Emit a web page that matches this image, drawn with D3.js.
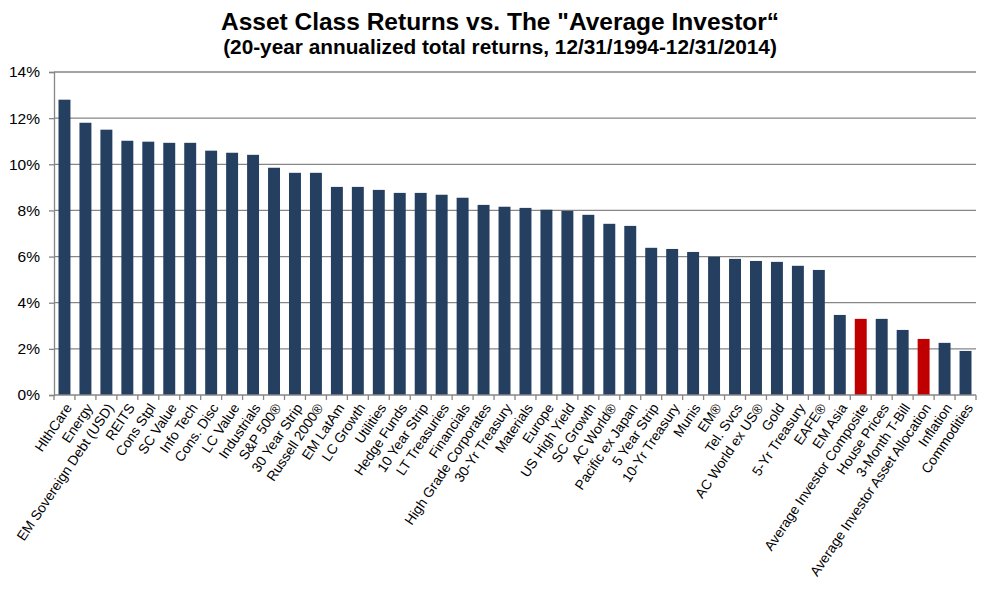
<!DOCTYPE html>
<html>
<head>
<meta charset="utf-8">
<script src="https://cdn.jsdelivr.net/npm/d3@7"></script>
<style>
  body { margin: 0; background: #fff; }
  svg { display: block; font-family: Arial, "Liberation Sans", sans-serif; }
</style>
</head>
<body>
<svg id="chart"></svg>
<script>
// categories, left to right
const categories = [
    'HlthCare', 'Energy', 'EM Sovereign Debt (USD)', 'REITS', 'Cons Stpl', 'SC Value',
    'Info Tech', 'Cons. Disc', 'LC Value', 'Industrials', 'S&P 500®', '30 Year Strip',
    'Russell 2000®', 'EM LatAm', 'LC Growth', 'Utilities', 'Hedge Funds', '10 Year Strip',
    'LT Treasuries', 'Financials', 'High Grade Corporates', '30-Yr Treasury', 'Materials',
    'Europe', 'US High Yield', 'SC Growth', 'AC World®', 'Pacific ex Japan', '5 Year Strip',
    '10-Yr Treasury', 'Munis', 'EM®', 'Tel. Svcs', 'AC World ex US®', 'Gold',
    '5-Yr Treasury', 'EAFE®', 'EM Asia', 'Average Investor Composite', 'House Prices',
    '3-Month T-Bill', 'Average Investor Asset Allocation', 'Inflation', 'Commodities'
]

// annualized returns, %
const returns = [
    12.8, 11.8, 11.5, 11.02, 10.98, 10.93,
    10.93, 10.59, 10.5, 10.41, 9.85, 9.63,
    9.63, 9.02, 9.02, 8.89, 8.76, 8.76,
    8.68, 8.55, 8.24, 8.16, 8.11,
    8.03, 7.98, 7.81, 7.42, 7.33, 6.38,
    6.33, 6.2, 5.99, 5.9, 5.81, 5.77,
    5.6, 5.42, 3.47, 3.3, 3.3,
    2.82, 2.43, 2.26, 1.91
]

// the two "average investor" bars are highlighted
const highlighted = ['Average Investor Composite', 'Average Investor Asset Allocation']

const yTicks = [0, 2, 4, 6, 8, 10, 12, 14]

const titleLines = [
    'Asset Class Returns vs. The "Average Investor\u201C',
    '(20-year annualized total returns, 12/31/1994-12/31/2014)'
]

const data = categories.map((c, i) => ({ name: c, value: returns[i] }))

const W = 990
const H = 599
const margin = { top: 72, right: 14, bottom: 204, left: 54 }
const width = W - margin.left - margin.right
const height = H - margin.top - margin.bottom

const svg = d3.select('#chart')
    .attr('width', W)
    .attr('height', H)

// title
svg.append('text')
    .attr('x', 500)
    .attr('y', 30)
    .attr('text-anchor', 'middle')
    .attr('font-size', '24.5px')
    .attr('font-weight', 'bold')
    .attr('fill', '#000')
    .text(titleLines[0])

svg.append('text')
    .attr('x', 500)
    .attr('y', 54)
    .attr('text-anchor', 'middle')
    .attr('font-size', '20.8px')
    .attr('font-weight', 'bold')
    .attr('fill', '#000')
    .text(titleLines[1])

const g = svg.append('g')
    .attr('transform', `translate(${margin.left},${margin.top})`)

const gap = 0.43
const x = d3.scaleBand()
    .domain(categories)
    .range([0, width])
    .paddingInner(gap)
    .paddingOuter(gap / 2)

const y = d3.scaleLinear()
    .domain([0, 14])
    .range([height, 0])

// horizontal gridlines
g.append('g')
    .selectAll('line')
    .data(yTicks.filter(t => t > 0))
    .enter()
    .append('line')
    .attr('x1', 0)
    .attr('x2', width)
    .attr('y1', d => y(d))
    .attr('y2', d => y(d))
    .attr('stroke', '#868686')
    .attr('stroke-width', 1.3)

// bars
g.selectAll('.bar')
    .data(data)
    .enter()
    .append('rect')
    .attr('class', 'bar')
    .attr('x', d => x(d.name))
    .attr('width', x.bandwidth())
    .attr('y', d => y(d.value))
    .attr('height', d => y(0) - y(d.value))
    .attr('fill', d => highlighted.includes(d.name) ? '#C00000' : '#243F60')

// y axis
const yAxis = g.append('g')
    .call(d3.axisLeft(y)
        .tickValues(yTicks)
        .tickSize(5)
        .tickPadding(9)
        .tickFormat(d => d + '%'))
yAxis.selectAll('line').attr('stroke', '#868686').attr('stroke-width', 1.3)
yAxis.select('.domain').attr('stroke', '#868686').attr('stroke-width', 1.3)
yAxis.selectAll('text')
    .attr('font-size', '15.5px')
    .attr('font-family', 'Arial, "Liberation Sans", sans-serif')
    .attr('fill', '#000')

// x axis: line + tick marks at the category boundaries
const xAxis = g.append('g')
    .attr('transform', `translate(0,${height})`)

xAxis.append('line')
    .attr('x1', 0)
    .attr('x2', width)
    .attr('stroke', '#868686')
    .attr('stroke-width', 1.3)

const step = x.step()
const bounds = categories.map(c => x(c) - step * gap / 2).concat([width])
xAxis.selectAll('.xtick')
    .data(bounds)
    .enter()
    .append('line')
    .attr('class', 'xtick')
    .attr('x1', d => d)
    .attr('x2', d => d)
    .attr('y1', 0)
    .attr('y2', 5)
    .attr('stroke', '#868686')
    .attr('stroke-width', 1.3)

// rotated category labels
xAxis.selectAll('.xlabel')
    .data(categories)
    .enter()
    .append('text')
    .attr('class', 'xlabel')
    .attr('text-anchor', 'end')
    .attr('font-size', '13.8px')
    .attr('fill', '#000')
    .attr('transform', d => `translate(${x(d) + x.bandwidth() / 2 + 4},${10}) rotate(-56)`)
    .attr('dy', '0.35em')
    .text(d => d)
</script>
</body>
</html>
